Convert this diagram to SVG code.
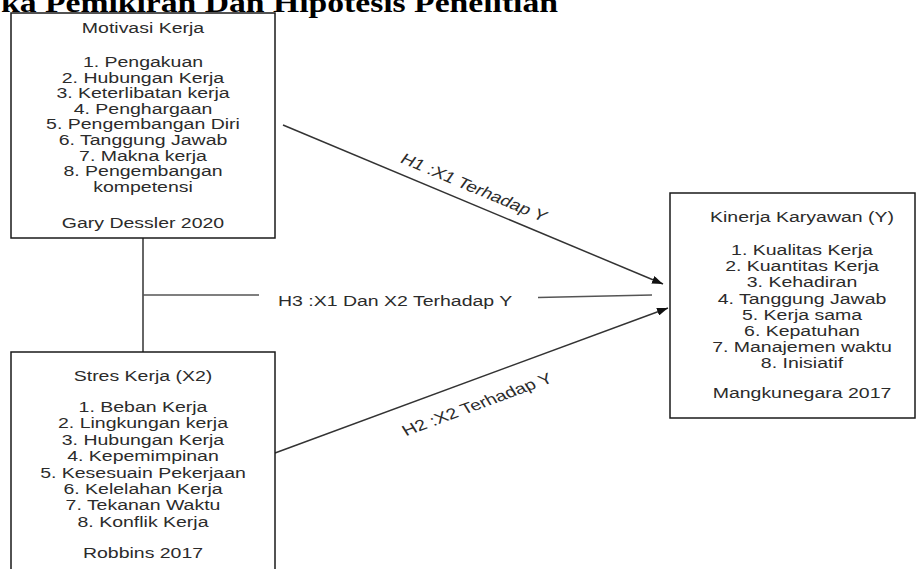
<svg xmlns="http://www.w3.org/2000/svg" width="920" height="569" viewBox="0 0 920 569">
<style>
  .box { fill: #ffffff; stroke: #1a1a1a; stroke-width: 1.5; }
  .t { font-family: "Liberation Sans", Arial, sans-serif; font-size: 15px; fill: #2b2b2b; text-anchor: middle; }
  .lbl { font-family: "Liberation Sans", Arial, sans-serif; font-size: 15px; fill: #2b2b2b; text-anchor: middle; }
  .conn { fill: none; stroke: #333333; stroke-width: 1.5; }
  .thin { fill: none; stroke: #555555; stroke-width: 1.5; }
  .title { font-family: "Liberation Serif", "Times New Roman", serif; font-weight: bold; font-size: 27px; fill: #000000; }
</style>
<defs>
  <marker id="arrow" viewBox="0 0 11 8" refX="11" refY="4" markerWidth="11" markerHeight="8" markerUnits="userSpaceOnUse" orient="auto">
    <path d="M0,0 L11,4 L0,8 z" fill="#111111"/>
  </marker>
</defs>
<rect x="0" y="0" width="920" height="569" fill="#ffffff"/>

<g id="title">
  <text class="title" x="1" y="12" textLength="557" lengthAdjust="spacingAndGlyphs">ka Pemikiran Dan Hipotesis Penelitian</text>
</g>

<g id="connectors">
  <path class="conn" d="M143 238 V352"/>
  <path class="thin" d="M143 295 H259"/>
  <path class="thin" d="M538 297.5 L652 295"/>
  <path class="conn" d="M283 125 L663 284" marker-end="url(#arrow)"/>
  <path class="conn" d="M275 453 L668 308" marker-end="url(#arrow)"/>
  <g transform="translate(471 192) scale(1.3 1) rotate(28.5)"><text class="lbl" x="0" y="0">H1 :X1 Terhadap Y</text></g>
  <g transform="translate(278 306) scale(1.3 1)"><text class="lbl" x="0" y="0" style="text-anchor:start">H3 :X1 Dan X2 Terhadap Y</text></g>
  <g transform="translate(480 409) scale(1.3 1) rotate(-25.6)"><text class="lbl" x="0" y="0">H2 :X2 Terhadap Y</text></g>
</g>

<g id="motivasi">
  <rect class="box" x="11" y="13" width="264" height="225"/>
  <g transform="translate(143 0) scale(1.3 1)">
    <text class="t" x="0" y="33">Motivasi Kerja</text>
    <text class="t" x="0" y="67">1. Pengakuan</text>
    <text class="t" x="0" y="82.6">2. Hubungan Kerja</text>
    <text class="t" x="0" y="98.2">3. Keterlibatan kerja</text>
    <text class="t" x="0" y="113.8">4. Penghargaan</text>
    <text class="t" x="0" y="129.4">5. Pengembangan Diri</text>
    <text class="t" x="0" y="145">6. Tanggung Jawab</text>
    <text class="t" x="0" y="160.6">7. Makna kerja</text>
    <text class="t" x="0" y="176.2">8. Pengembangan</text>
    <text class="t" x="0" y="191.8">kompetensi</text>
    <text class="t" x="0" y="228">Gary Dessler 2020</text>
  </g>
</g>

<g id="stres">
  <rect class="box" x="11" y="352" width="264" height="232"/>
  <g transform="translate(143 0) scale(1.3 1)">
    <text class="t" x="0" y="381">Stres Kerja (X2)</text>
    <text class="t" x="0" y="412">1. Beban Kerja</text>
    <text class="t" x="0" y="428.4">2. Lingkungan kerja</text>
    <text class="t" x="0" y="444.8">3. Hubungan Kerja</text>
    <text class="t" x="0" y="461.2">4. Kepemimpinan</text>
    <text class="t" x="0" y="477.6">5. Kesesuain Pekerjaan</text>
    <text class="t" x="0" y="494">6. Kelelahan Kerja</text>
    <text class="t" x="0" y="510.4">7. Tekanan Waktu</text>
    <text class="t" x="0" y="526.8">8. Konflik Kerja</text>
    <text class="t" x="0" y="558">Robbins 2017</text>
  </g>
</g>

<g id="kinerja">
  <rect class="box" x="670" y="193" width="245" height="225"/>
  <g transform="translate(802 0) scale(1.3 1)">
    <text class="t" x="0" y="222">Kinerja Karyawan (Y)</text>
    <text class="t" x="0" y="255">1. Kualitas Kerja</text>
    <text class="t" x="0" y="271.2">2. Kuantitas Kerja</text>
    <text class="t" x="0" y="287.4">3. Kehadiran</text>
    <text class="t" x="0" y="303.6">4. Tanggung Jawab</text>
    <text class="t" x="0" y="319.8">5. Kerja sama</text>
    <text class="t" x="0" y="336">6. Kepatuhan</text>
    <text class="t" x="0" y="352.2">7. Manajemen waktu</text>
    <text class="t" x="0" y="368.4">8. Inisiatif</text>
    <text class="t" x="0" y="398">Mangkunegara 2017</text>
  </g>
</g>
</svg>
